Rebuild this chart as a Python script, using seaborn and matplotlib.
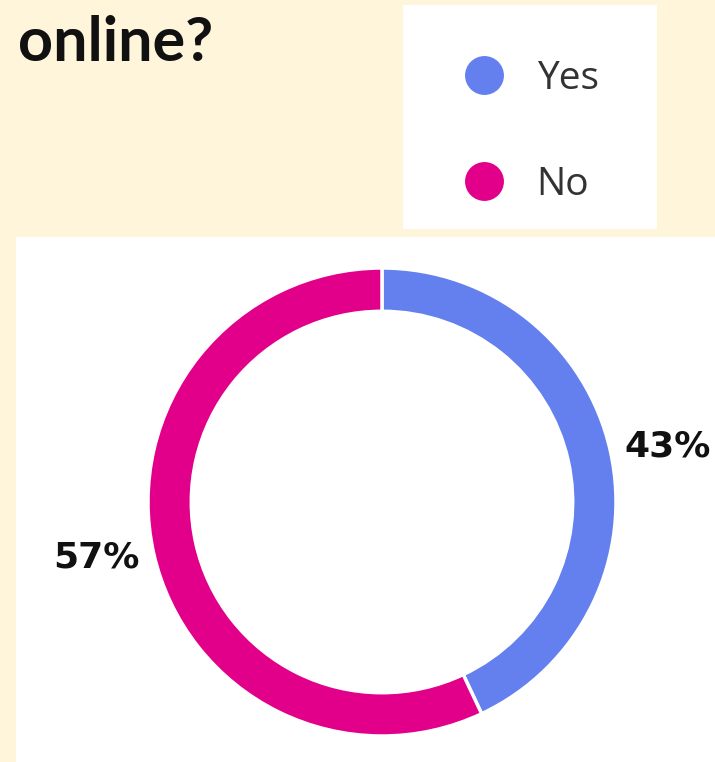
import matplotlib
matplotlib.use("Agg")
import matplotlib.pyplot as plt
import seaborn as sns
from matplotlib.patches import Rectangle
from matplotlib.lines import Line2D

# ---- data ----
categories = ["Yes", "No"]
values = [43, 57]
colors = ["#6480EE", "#E2008B"]
title_text = "online?"

sns.set_theme(style="white")

W, H = 715, 762
fig = plt.figure(figsize=(W / 100, H / 100), dpi=100)
fig.patch.set_facecolor("#FFF5DA")

def fx(px):
    return px / W

def fy(py):
    return 1 - py / H

# white chart panel
fig.patches.append(Rectangle((fx(16), 0), 1 - fx(16), fy(237), transform=fig.transFigure,
                             facecolor="white", edgecolor="none", zorder=0))
# white legend box
fig.patches.append(Rectangle((fx(403), fy(229)), fx(657) - fx(403), fy(5) - fy(229),
                             transform=fig.transFigure, facecolor="white",
                             edgecolor="none", zorder=0))

# title
fig.text(fx(18), fy(61), title_text, fontsize=44, fontfamily="Lato", fontweight="bold",
         color="#111111", va="baseline", ha="left", zorder=3)

# donut
cx, cy, R = 382, 502, 234
ax = fig.add_axes([fx(cx - R), fy(cy + R), 2 * R / W, 2 * R / H])
ax.set_zorder(2)
ax.set_facecolor("none")
ax.patch.set_alpha(0)
wedges, texts, autotexts = ax.pie(
    values, colors=colors, startangle=90, counterclock=False, radius=1,
    wedgeprops=dict(width=0.185, edgecolor="white", linewidth=2.5),
    autopct="%d%%", pctdistance=1.25,
    textprops=dict(fontsize=26, fontweight="bold", color="#111111", fontfamily="DejaVu Sans"),
)
ax.set_xlim(-1, 1)
ax.set_ylim(-1, 1)
ax.set_axis_off()
for t in autotexts:
    t.set_clip_on(False)
    x, y = t.get_position()
    t.set_position((x, y * 0.87))

# legend
handles = [Line2D([0], [0], marker="o", linestyle="none", markersize=28,
                  markerfacecolor=c, markeredgecolor="none") for c in colors]
leg = fig.legend(handles, categories, loc="upper left",
                 bbox_to_anchor=(fx(455), fy(60)), frameon=False,
                 prop=dict(family="Open Sans", size=28), labelcolor="#333333",
                 labelspacing=1.75, handletextpad=0.6, borderpad=0, borderaxespad=0,
                 handlelength=1.5)
leg.set_zorder(4)

fig.savefig("out.png", dpi=100, facecolor=fig.get_facecolor())
